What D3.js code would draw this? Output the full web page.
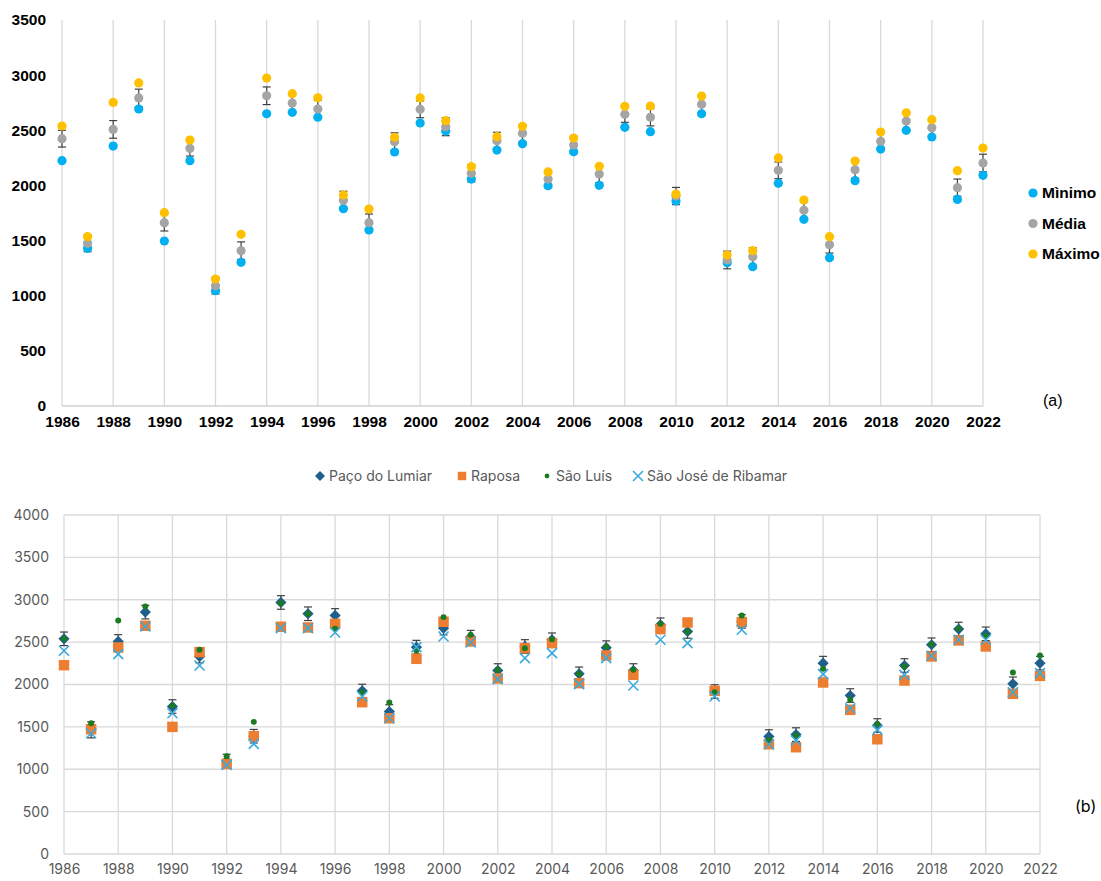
<!DOCTYPE html>
<html lang="pt">
<head>
<meta charset="UTF-8">
<title>Precipitação anual</title>
<script src="https://d3js.org/d3.v7.min.js"></script>
<style>
    body { margin: 0; background: #fff; }
    svg { display: block; }
    .top text { font-family: "Liberation Sans", Arial, sans-serif; font-weight: bold; fill: #000; }
    .bot text { font-family: Inter, "Noto Sans", sans-serif; fill: #595959; }
</style>
</head>
<body>
<svg id="chart" width="1101" height="881"></svg>
<script>
// years shared by both panels
const years = d3.range(1986, 2023);

// (a) minimum / mean / maximum over the four municipalities
const minimo = [2224,1430,2357,2693,1496,2224,1046,1303,2650,2663,2618,1789,1596,2303,2566,2493,2058,2321,2379,1998,
    2306,2001,2527,2487,1859,2650,1299,1263,2019,1693,1345,2043,2330,2500,2439,1873,2092];
const media = [2424,1475,2508,2793,1662,2336,1091,1408,2813,2747,2693,1865,1662,2397,2690,2533,2110,2406,2473,2058,
    2367,2104,2645,2618,1904,2735,1324,1354,2137,1774,1463,2143,2400,2584,2524,1980,2203];
const maximo = [2539,1535,2753,2929,1753,2412,1151,1557,2974,2832,2795,1913,1786,2436,2793,2587,2170,2442,2536,2122,
    2430,2173,2717,2720,1922,2811,1369,1408,2249,1868,1535,2221,2484,2659,2596,2134,2339];
const mediaErr = [76,76,80,80,75,70,75,80,80,78,78,82,79,80,76,82,78,76,78,78,
    78,78,73,78,78,78,80,80,76,78,76,78,78,78,78,78,80];

// (b) annual values per municipality
const series = ['Paço do Lumiar', 'Raposa', 'São Luís', 'São José de Ribamar'];
const pacoLumiar = [2539,1465,2508,2854,1740,2330,1097,1390,2968,2835,2815,1925,1681,2441,2665,2559,2165,2449,2528,2126,
    2435,2165,2705,2626,1917,2744,1386,1409,2252,1870,1516,2224,2469,2654,2598,2008,2252];
const raposa = [2228,1472,2437,2693,1500,2382,1063,1390,2681,2673,2716,1791,1602,2303,2740,2508,2071,2429,2488,2016,
    2342,2114,2654,2732,1925,2736,1295,1260,2024,1701,1354,2047,2331,2520,2449,1890,2102];
const saoLuis = [2540,1543,2756,2921,1752,2409,1153,1559,2960,2835,2657,1910,1787,2402,2795,2587,2173,2429,2535,2126,
    2449,2173,2717,2626,1909,2815,1346,1398,2185,1819,1535,2213,2476,2661,2575,2142,2343];
const saoJose = [2398,1425,2358,2685,1661,2224,1051,1299,2665,2665,2614,1858,1602,2441,2567,2496,2063,2311,2370,2004,
    2311,1988,2528,2488,1858,2646,1295,1339,2122,1720,1465,2114,2339,2528,2528,1909,2134];
const pacoErr = [80,95,80,80,80,75,80,80,80,80,80,78,80,80,80,80,80,80,80,80,
    80,80,80,80,80,80,80,80,80,80,80,80,80,80,80,80,80];

const svg = d3.select('#chart');

// ---------- panel (a) ----------
const gA = svg.append('g').attr('class', 'top');
const xA = d3.scaleLinear().domain([1986, 2022]).range([62, 983]);
const yA = d3.scaleLinear().domain([0, 3500]).range([406, 20]);

const evenYears = years.filter(y => y % 2 === 0);

gA.append('g')
    .selectAll('line')
    .data(evenYears)
    .join('line')
    .attr('x1', d => xA(d)).attr('x2', d => xA(d))
    .attr('y1', yA(3500)).attr('y2', yA(0))
    .attr('stroke', '#d9d9d9').attr('stroke-width', 1.3);

gA.append('line')
    .attr('x1', xA(1986)).attr('x2', xA(2022))
    .attr('y1', yA(0)).attr('y2', yA(0))
    .attr('stroke', '#d0d0d0').attr('stroke-width', 1.5);

const axAy = gA.append('g')
    .attr('transform', `translate(${xA(1986)},0)`)
    .call(d3.axisLeft(yA).tickValues(d3.range(0, 3501, 500)).tickSize(0).tickPadding(16).tickFormat(d3.format('d')));
const axAx = gA.append('g')
    .attr('transform', `translate(0,${yA(0)})`)
    .call(d3.axisBottom(xA).tickValues(evenYears).tickSize(0).tickPadding(10).tickFormat(d3.format('d')));
[axAy, axAx].forEach(a => {
    a.select('.domain').remove();
    a.selectAll('text').style('font-size', '15.5px');
});

// error bars on the mean
const errA = gA.append('g').attr('stroke', '#404040').attr('stroke-width', 1.2);
years.forEach((yr, i) => {
    const x = xA(yr), lo = yA(media[i] - mediaErr[i]), hi = yA(media[i] + mediaErr[i]);
    errA.append('line').attr('x1', x).attr('x2', x).attr('y1', lo).attr('y2', hi);
    errA.append('line').attr('x1', x - 4).attr('x2', x + 4).attr('y1', lo).attr('y2', lo);
    errA.append('line').attr('x1', x - 4).attr('x2', x + 4).attr('y1', hi).attr('y2', hi);
});

const topSeries = [
    {name: 'Mìnimo', values: minimo, color: '#00b0f0'},
    {name: 'Média', values: media, color: '#a5a5a5'},
    {name: 'Máximo', values: maximo, color: '#ffc000'}
];
topSeries.forEach(s => {
    gA.append('g')
        .selectAll('circle')
        .data(s.values)
        .join('circle')
        .attr('cx', (d, i) => xA(years[i]))
        .attr('cy', d => yA(d))
        .attr('r', 4.6)
        .attr('fill', s.color);
});

// legend (a)
const legA = gA.append('g').attr('transform', 'translate(1033,193)');
topSeries.forEach((s, i) => {
    const row = legA.append('g').attr('transform', `translate(0,${i * 30.5})`);
    row.append('circle').attr('r', 4.6).attr('fill', s.color);
    row.append('text').attr('x', 9).attr('dy', '0.35em').style('font-size', '15.5px').text(s.name);
});
svg.append('text')
    .attr('x', 1043).attr('y', 406)
    .style('font-family', '"Liberation Sans", Arial, sans-serif')
    .style('font-size', '16px').attr('fill', '#000')
    .text('(a)');

// ---------- panel (b) ----------
const gB = svg.append('g').attr('class', 'bot');
const xB = d3.scaleLinear().domain([1986, 2022]).range([64, 1040]);
const yB = d3.scaleLinear().domain([0, 4000]).range([854, 515]);

gB.append('g')
    .selectAll('line')
    .data(d3.range(0, 4001, 500))
    .join('line')
    .attr('x1', xB(1986)).attr('x2', xB(2022))
    .attr('y1', d => yB(d)).attr('y2', d => yB(d))
    .attr('stroke', '#d9d9d9').attr('stroke-width', 1.3);
gB.append('g')
    .selectAll('line')
    .data(evenYears)
    .join('line')
    .attr('x1', d => xB(d)).attr('x2', d => xB(d))
    .attr('y1', yB(4000)).attr('y2', yB(0))
    .attr('stroke', '#d9d9d9').attr('stroke-width', 1.3);

const axBy = gB.append('g')
    .attr('transform', `translate(${xB(1986)},0)`)
    .call(d3.axisLeft(yB).tickValues(d3.range(0, 4001, 500)).tickSize(0).tickPadding(15).tickFormat(d3.format('d')));
const axBx = gB.append('g')
    .attr('transform', `translate(0,${yB(0)})`)
    .call(d3.axisBottom(xB).tickValues(evenYears).tickSize(0).tickPadding(10).tickFormat(d3.format('d')));
[axBy, axBx].forEach(a => {
    a.select('.domain').remove();
    a.selectAll('text').style('font-size', '14px').attr('fill', '#595959');
});

const botSeries = [
    {name: series[0], values: pacoLumiar, color: '#1f5f8b', sym: 'diamond', size: 5.6},
    {name: series[1], values: raposa, color: '#ed7d31', sym: d3.symbolSquare, size: 110},
    {name: series[2], values: saoLuis, color: '#1c7a22', sym: d3.symbolCircle, size: 28},
    {name: series[3], values: saoJose, color: '#3aaade', sym: 'x', size: 5}
];

function drawMark(g, s, x, y) {
    const r = s.size;
    if (s.sym === 'x') {
        g.append('path')
            .attr('d', `M${x - r},${y - r}L${x + r},${y + r}M${x - r},${y + r}L${x + r},${y - r}`)
            .attr('stroke', s.color).attr('stroke-width', 1.6).attr('fill', 'none');
    } else if (s.sym === 'diamond') {
        g.append('path')
            .attr('d', `M${x},${y - r}L${x + r},${y}L${x},${y + r}L${x - r},${y}Z`)
            .attr('fill', s.color);
    } else {
        g.append('path')
            .attr('d', d3.symbol().type(s.sym).size(s.size)())
            .attr('transform', `translate(${x},${y})`)
            .attr('fill', s.color);
    }
}

// error bars for Paço do Lumiar
const errB = gB.append('g').attr('stroke', '#404040').attr('stroke-width', 1.2);
years.forEach((yr, i) => {
    const x = xB(yr), lo = yB(pacoLumiar[i] - pacoErr[i]), hi = yB(pacoLumiar[i] + pacoErr[i]);
    errB.append('line').attr('x1', x).attr('x2', x).attr('y1', lo).attr('y2', hi);
    errB.append('line').attr('x1', x - 4).attr('x2', x + 4).attr('y1', lo).attr('y2', lo);
    errB.append('line').attr('x1', x - 4).attr('x2', x + 4).attr('y1', hi).attr('y2', hi);
});

botSeries.forEach(s => {
    const g = gB.append('g');
    s.values.forEach((v, i) => drawMark(g, s, xB(years[i]), yB(v)));
});

// legend (b)
const legB = gB.append('g').attr('transform', 'translate(0,476)');
const legX = [320, 462, 547, 638];
const legSize = [5, 72, 18, 5];
botSeries.forEach((s, i) => {
    const item = legB.append('g');
    drawMark(item, Object.assign({}, s, {size: legSize[i]}), legX[i], 0);
    item.append('text')
        .attr('x', legX[i] + 9).attr('dy', '0.35em')
        .style('font-size', '14px').attr('fill', '#595959')
        .text(s.name);
});
svg.append('text')
    .attr('x', 1075).attr('y', 812)
    .style('font-family', 'Inter, "Noto Sans", sans-serif')
    .style('font-size', '16px').attr('fill', '#000')
    .text('(b)');
</script>
</body>
</html>
